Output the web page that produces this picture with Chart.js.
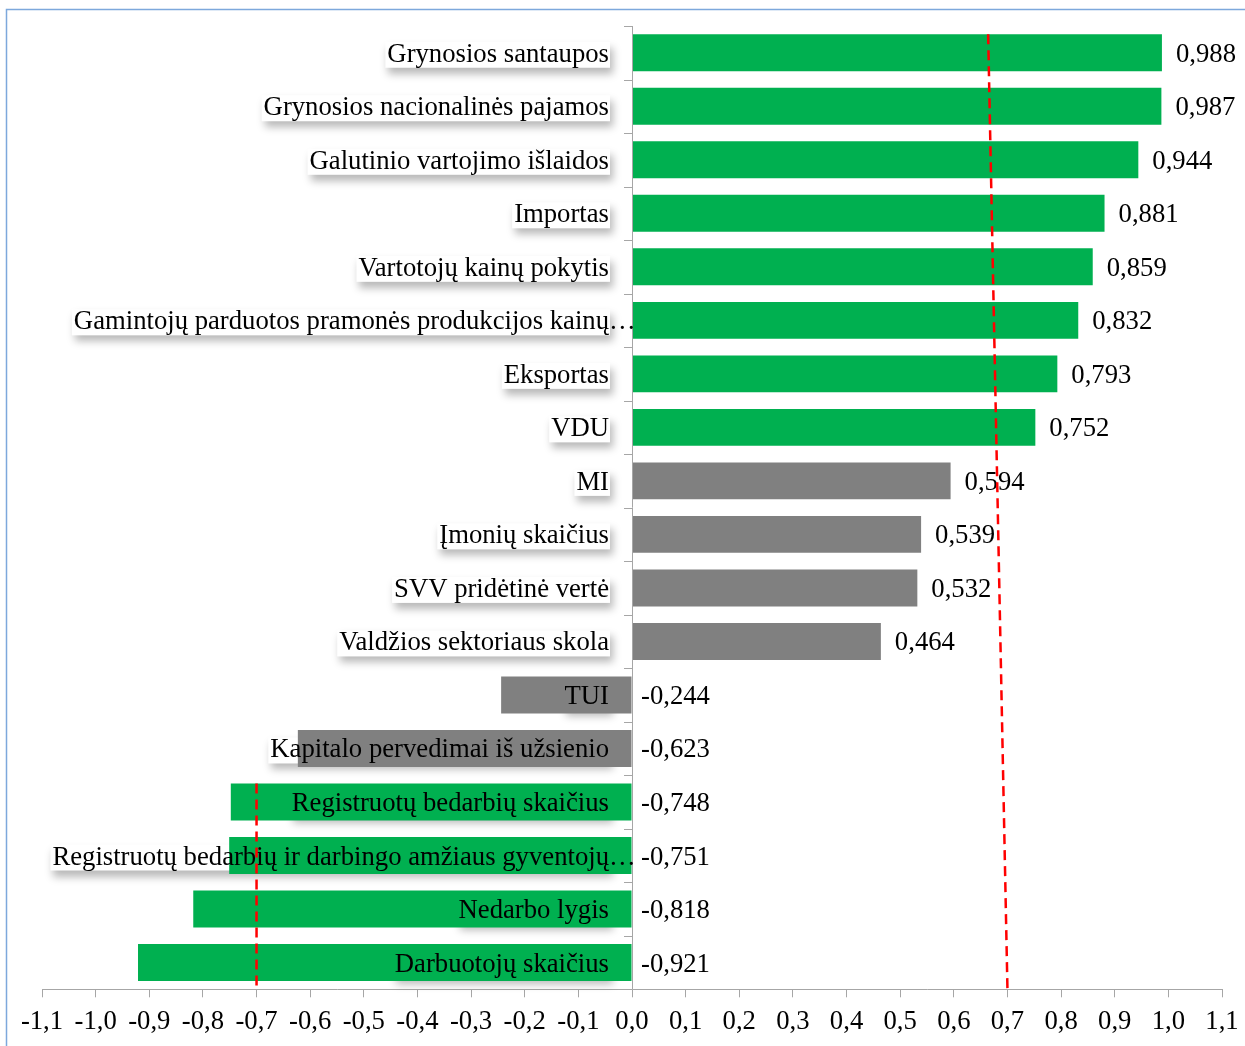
<!DOCTYPE html>
<html>
<head>
<meta charset="utf-8">
<script src="https://cdn.jsdelivr.net/npm/chart.js@4.4.0/dist/chart.umd.min.js"></script>
<style>
  html, body { margin: 0; padding: 0; background: #fff; }
  #wrap { width: 1245px; height: 1046px; }
</style>
</head>
<body>
<div id="wrap"><canvas id="c" width="1245" height="1046"></canvas></div>
<script>
// Indicators and their correlation coefficients
const categories = [
  "Grynosios santaupos",
  "Grynosios nacionalinės pajamos",
  "Galutinio vartojimo išlaidos",
  "Importas",
  "Vartotojų kainų pokytis",
  "Gamintojų parduotos pramonės produkcijos kainų…",
  "Eksportas",
  "VDU",
  "MI",
  "Įmonių skaičius",
  "SVV pridėtinė vertė",
  "Valdžios sektoriaus skola",
  "TUI",
  "Kapitalo pervedimai iš užsienio",
  "Registruotų bedarbių skaičius",
  "Registruotų bedarbių ir darbingo amžiaus gyventojų…",
  "Nedarbo lygis",
  "Darbuotojų skaičius"
];
const correlations = [
  0.988, 0.987, 0.944, 0.881, 0.859, 0.832, 0.793, 0.752,
  0.594, 0.539, 0.532, 0.464, -0.244, -0.623,
  -0.748, -0.751, -0.818, -0.921
];

// Value axis range and step
const axisMin = -1.1;
const axisMax = 1.1;
const axisStep = 0.1;

// Strong-correlation threshold
const threshold = 0.7;

// Threshold guide lines: value where the line starts (top), value where it ends (axis), first category it spans
const upperGuide = { topValue: 0.664, bottomValue: 0.70, fromCategory: 0 };
const lowerGuide = { topValue: -0.70, bottomValue: -0.70, fromCategory: 14 };

const GREEN = '#00B050';
const GREY = '#808080';
const AXIS = '#A6A6A6';
const FAMILY = '"Liberation Serif", "Times New Roman", serif';
const FONT = '26.7px ' + FAMILY;

const comma = (v, d) => (Math.abs(v) < 1e-9 ? 0 : v).toFixed(d).replace('.', ',');

const overlay = {
  id: 'overlay',
  beforeDraw(chart) {
    const ctx = chart.ctx;
    ctx.save();
    ctx.fillStyle = '#fff';
    ctx.fillRect(0, 0, chart.width, chart.height);
    ctx.strokeStyle = '#7DA8DC';
    ctx.lineWidth = 1.5;
    ctx.strokeRect(6.5, 9.5, chart.width + 40, chart.height + 40);
    ctx.restore();
  },
  beforeDatasetsDraw(chart) {
    // white label plates with a soft drop shadow, placed left of the zero line
    const { ctx, scales: { x, y } } = chart;
    const zero = x.getPixelForValue(0);
    const right = zero - 23;
    ctx.save();
    ctx.font = FONT;
    categories.forEach((name, i) => {
      const main = name.endsWith('…') ? name.slice(0, -1) : name;
      const w = ctx.measureText(main).width;
      const cy = y.getPixelForValue(i);
      ctx.shadowColor = 'rgba(0,0,0,0.28)';
      ctx.shadowBlur = 8;
      ctx.shadowOffsetX = 3;
      ctx.shadowOffsetY = 6;
      ctx.fillStyle = '#fff';
      ctx.fillRect(right - w - 2, cy - 11, w + 3, 26);
    });
    ctx.restore();
  },
  afterDatasetsDraw(chart) {
    const { ctx, chartArea, scales: { x, y } } = chart;
    const zero = x.getPixelForValue(0);
    const meta = chart.getDatasetMeta(0);
    ctx.save();

    // vertical category axis through zero with ticks between categories
    ctx.strokeStyle = AXIS;
    ctx.lineWidth = 1;
    ctx.beginPath();
    ctx.moveTo(Math.round(zero) + 0.5, chartArea.top);
    ctx.lineTo(Math.round(zero) + 0.5, chartArea.bottom);
    for (let k = 0; k <= categories.length; k++) {
      let yy;
      if (k === 0) yy = chartArea.top;
      else if (k === categories.length) yy = chartArea.bottom;
      else yy = (y.getPixelForValue(k - 1) + y.getPixelForValue(k)) / 2;
      yy = Math.round(yy) + 0.5;
      ctx.moveTo(Math.round(zero) - 8, yy);
      ctx.lineTo(Math.round(zero) + 0.5, yy);
    }
    ctx.stroke();

    // category names
    ctx.font = FONT;
    ctx.fillStyle = '#000';
    ctx.textBaseline = 'alphabetic';
    const right = zero - 23;
    categories.forEach((name, i) => {
      const cy = y.getPixelForValue(i);
      const cut = name.endsWith('…');
      const main = cut ? name.slice(0, -1) : name;
      ctx.textAlign = 'right';
      ctx.fillText(main, right, cy + 9);
      if (cut) {
        ctx.textAlign = 'left';
        ctx.fillText('…', right, cy + 9);
      }
    });

    // value labels
    ctx.textAlign = 'left';
    correlations.forEach((v, i) => {
      const bar = meta.data[i];
      const lx = v >= 0 ? x.getPixelForValue(v) + 14 : zero + 9;
      ctx.fillText(comma(v, 3), lx, bar.y + 9);
    });

    // threshold guide lines
    ctx.strokeStyle = '#FF0000';
    ctx.lineWidth = 2.5;
    ctx.setLineDash([10, 6]);
    [upperGuide, lowerGuide].forEach(g => {
      const bar = meta.data[g.fromCategory];
      const top = bar.y - bar.height / 2;
      ctx.beginPath();
      ctx.moveTo(x.getPixelForValue(g.topValue), top);
      ctx.lineTo(x.getPixelForValue(g.bottomValue), chartArea.bottom);
      ctx.stroke();
    });
    ctx.restore();
  }
};

new Chart(document.getElementById('c'), {
  type: 'bar',
  data: {
    labels: categories,
    datasets: [{
      data: correlations,
      backgroundColor: correlations.map(v => Math.abs(v) >= threshold ? GREEN : GREY),
      borderWidth: 0,
      barPercentage: 0.69,
      categoryPercentage: 1.0
    }]
  },
  options: {
    indexAxis: 'y',
    responsive: false,
    animation: false,
    devicePixelRatio: 1,
    layout: { padding: { left: 42, right: 23, top: 26, bottom: 0 } },
    plugins: {
      legend: { display: false },
      tooltip: { enabled: false }
    },
    scales: {
      x: {
        type: 'linear',
        min: axisMin,
        max: axisMax,
        afterFit(scale) {
          scale.paddingLeft = 0;
          scale.paddingRight = 0;
        },
        border: { display: true, color: AXIS, width: 1 },
        grid: { display: true, drawOnChartArea: false, drawTicks: true, tickLength: 8, color: AXIS },
        ticks: {
          stepSize: axisStep,
          padding: 11,
          color: '#000',
          font: { family: FAMILY, size: 26.7, lineHeight: 1 },
          maxRotation: 0,
          autoSkip: false,
          callback: v => comma(v, 1)
        }
      },
      y: { display: false }
    }
  },
  plugins: [overlay]
});
</script>
</body>
</html>
